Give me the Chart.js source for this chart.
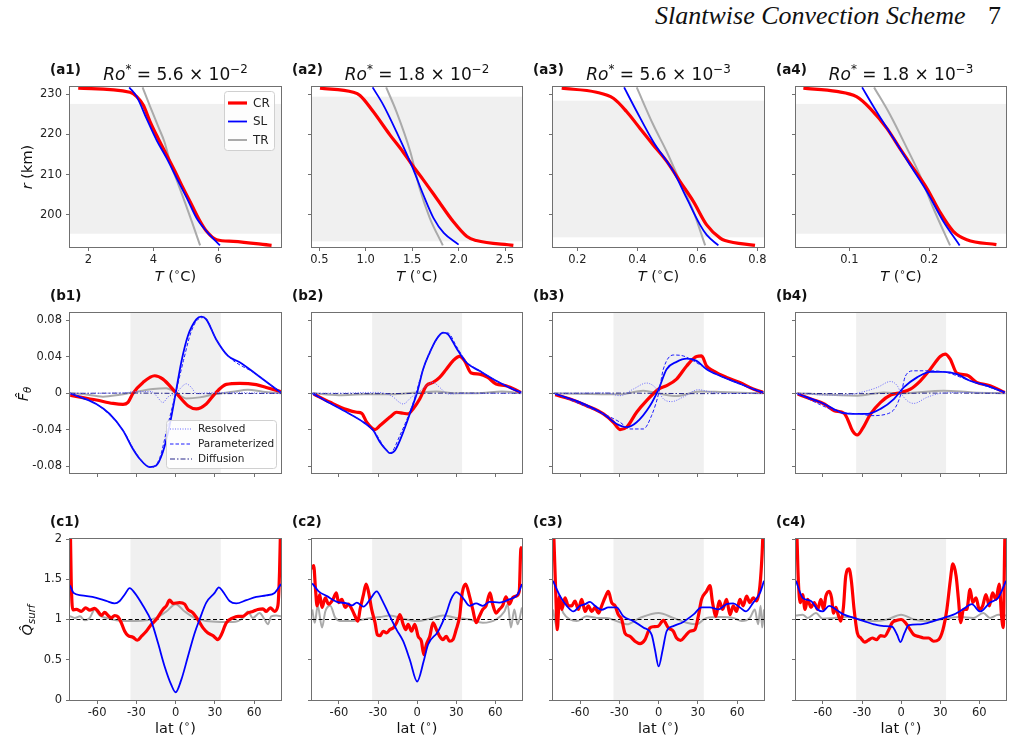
<!DOCTYPE html>
<html><head><meta charset="utf-8">
<script src="https://cdn.jsdelivr.net/npm/chart.js@4.4.0/dist/chart.umd.min.js"></script>
<style>
html,body{margin:0;padding:0;background:#fff;}
body{width:1019px;height:742px;position:relative;overflow:hidden;font-family:"DejaVu Sans",sans-serif;}
canvas{position:absolute;}
.t{position:absolute;white-space:nowrap;color:#111;transform:translate(-50%,-50%);line-height:1;}
.rot{transform:translate(-50%,-50%) rotate(-90deg);}
.lab{font-weight:bold;font-size:13.5px;transform:translate(0,-50%);}
.ttl{font-size:17px;}
.ax{font-size:14.5px;}
sup{font-size:70%;vertical-align:0.55em;line-height:0;}
sub{font-size:70%;vertical-align:-0.3em;line-height:0;}
.hdr{position:absolute;font-family:"Liberation Serif",serif;font-style:italic;font-size:26px;line-height:1;color:#111;white-space:nowrap;}
</style></head><body>
<script>
// ---------------- DATA ----------------
const rowA_rLim = [192.0, 231.8];
const rowA_rTicks = [200, 210, 220, 230];
const rowA_rTickLabels = ['200', '210', '220', '230'];
const latLim = [-80.7, 80.5];
const latTicks = [-60, -30, 0, 30, 60];
const latTickLabels = ['-60', '-30', '0', '30', '60'];
const fTicks = [-0.08, -0.04, 0, 0.04, 0.08];
const fTickLabels = ['-0.08', '-0.04', '0', '0.04', '0.08'];
const fLim = [-0.0872, 0.088];
const qTicks = [0, 0.5, 1, 1.5, 2];
const qTickLabels = ['0', '0.5', '1', '1.5', '2'];
const qLim = [0, 2];
const qRef = 1;
const fRef = 0;
const latBand = [-34.5, 34.5];

const roMant = ['5.6', '1.8', '5.6', '1.8'];
const roExp = ['−2', '−2', '−3', '−3'];

const a1_xLim = [1.437, 7.93], a2_xLim = [0.421, 2.683], a3_xLim = [0.119, 0.822], a4_xLim = [0.0333, 0.296];
const a1_xTicks = [2, 4, 6], a1_xLabels = ['2', '4', '6'];
const a2_xTicks = [0.5, 1, 1.5, 2, 2.5], a2_xLabels = ['0.5', '1.0', '1.5', '2.0', '2.5'];
const a3_xTicks = [0.2, 0.4, 0.6, 0.8], a3_xLabels = ['0.2', '0.4', '0.6', '0.8'];
const a4_xTicks = [0.1, 0.2], a4_xLabels = ['0.1', '0.2'];
const a1_band = [195.3, 227.6], a2_band = [193.4, 229.4], a3_band = [194.4, 228.4], a4_band = [195.3, 227.6];

// row a: [T, r]
const a1_CR = [[1.69,231.5],[3.28,230.5],[3.49,229.4],[3.69,227.3],[3.9,223.2],[4.15,219],[4.41,214.9],[4.67,210.8],[4.92,206.6],[5.18,202.5],[5.44,198.4],[5.64,195.9],[5.95,193.8],[6.46,193.4],[7.64,192.4]];
const a1_SL = [[3.26,231.7],[3.49,229.4],[3.79,224],[4.1,218.6],[4.41,214.1],[4.72,209.1],[5.03,204.2],[5.33,199.2],[5.64,195.9],[6.05,192.4]];
const a1_TR = [[3.67,231.7],[3.9,227],[4.15,222],[4.35,218],[4.52,213],[4.75,208],[4.98,203],[5.2,198],[5.44,192.4]];
const a2_CR = [[0.507,231.5],[0.866,230.5],[0.938,229.7],[1.08,225.7],[1.26,219.9],[1.40,215.7],[1.50,212.4],[1.62,208.7],[1.76,204.2],[1.94,198.4],[2.09,194.6],[2.19,193.6],[2.59,192.4]];
const a2_SL = [[1.074,231.7],[1.19,227.3],[1.33,220.7],[1.50,212],[1.62,205],[1.73,199.2],[1.84,195.5],[2.0,192.6]];
const a2_TR = [[1.22,231.7],[1.33,225.7],[1.48,215.7],[1.58,206.6],[1.69,199.2],[1.83,192.4]];
const a3_CR = [[0.148,231.5],[0.264,230.5],[0.32,229],[0.364,225.7],[0.409,221.5],[0.453,217.4],[0.498,213.3],[0.542,208.3],[0.587,203.3],[0.631,197.5],[0.676,194.2],[0.692,193.6],[0.792,192.4]];
const a3_SL = [[0.356,231.7],[0.398,225.7],[0.453,218.2],[0.52,210.8],[0.564,204.2],[0.609,197.5],[0.631,195],[0.67,192.4]];
const a3_TR = [[0.398,231.7],[0.453,222.4],[0.498,215.7],[0.542,208.3],[0.587,200.8],[0.626,192.4]];
const a4_CR = [[0.0425,231.5],[0.084,230.7],[0.109,229.4],[0.126,226.5],[0.147,221.5],[0.163,216.6],[0.18,211.6],[0.197,206.6],[0.213,200.8],[0.23,195.9],[0.247,193.8],[0.284,192.6]];
const a4_SL = [[0.116,231.7],[0.134,225.7],[0.155,219.1],[0.176,212.4],[0.197,205.8],[0.2175,198.4],[0.238,192.4]];
const a4_TR = [[0.131,231.7],[0.151,224.9],[0.172,216.6],[0.188,210],[0.205,201.7],[0.226,192.4]];

// row b: [lat, F]
const b1_CR = [[-80.5,-0.002],[-70,-0.005],[-60.6,-0.0073],[-47.8,-0.011],[-40.2,-0.012],[-36.4,-0.0098],[-32.6,0],[-24.9,0.012],[-16,0.0193],[-9.7,0.0156],[0,0.001],[9.4,-0.0135],[15.8,-0.017],[23.4,-0.0116],[29.8,-0.0007],[38.7,0.0098],[48.9,0.011],[61.6,0.0095],[69.2,0.0065],[80.3,0.002]];
const b1_SL = [[-80.7,0],[-60.6,-0.0116],[-50.4,-0.0225],[-40.2,-0.0407],[-32.6,-0.061],[-27.5,-0.0716],[-19.8,-0.0807],[-14.8,-0.079],[-9.7,-0.064],[-4.6,-0.035],[0,0],[4.3,0.034],[9.4,0.063],[15.8,0.081],[19.6,0.084],[23.4,0.081],[31,0.059],[40,0.041],[48.9,0.034],[61.6,0.021],[71.8,0.010],[80.3,0.001]];
const b1_TR = [[-80.7,0],[-70.7,-0.0007],[-55.5,-0.0036],[-42.7,-0.0015],[-32.6,0.001],[-17.3,0.0047],[-7.1,0.0055],[0,0.001],[8,-0.0055],[18.3,-0.0044],[31,-0.0007],[43.8,0.0018],[55.2,0.004],[66.7,0.0018],[80.5,0]];
const b1_Res = [[-80.7,0],[-40,0.0005],[-30,0.002],[-18.6,0.002],[-14.8,-0.0025],[-9.7,-0.01],[-5.9,-0.004],[0,0],[5.6,0.0084],[8.1,0.0105],[12,0.0065],[15.8,0],[30,0.001],[80.5,0]];
const b1_Par = [[-80.7,0],[-60.6,-0.0116],[-40.2,-0.0405],[-30,-0.066],[-22,-0.079],[-18,-0.081],[-12,-0.07],[-6,-0.035],[0,0],[6,0.036],[12,0.068],[18,0.082],[22,0.083],[31,0.059],[40,0.041],[61.6,0.021],[80.3,0.001]];
const b1_Dif = [[-80.7,0],[-30,0.0003],[0,0],[30,-0.0003],[80.5,0]];

const b2_CR = [[-79.4,-0.0007],[-66.7,-0.0098],[-54,-0.0178],[-46.3,-0.0207],[-42.5,-0.0218],[-38.7,-0.0316],[-32.3,-0.0396],[-28.5,-0.0353],[-20.9,-0.026],[-15.8,-0.0207],[-10.7,-0.0218],[-6.9,-0.0225],[-3.1,-0.017],[2,-0.0062],[7.1,0.0084],[12.2,0.012],[17.3,0.0175],[22.4,0.0265],[27.5,0.0356],[32.6,0.0404],[36.4,0.0356],[41.5,0.0222],[47.8,0.0211],[54.2,0.0175],[60.6,0.0102],[68.2,0.0084],[79.6,0.001]];
const b2_SL = [[-80.2,0],[-66.7,-0.0109],[-54,-0.0207],[-41.2,-0.0316],[-33.6,-0.0407],[-28.5,-0.0535],[-23.4,-0.0625],[-20.9,-0.0655],[-17,-0.0625],[-10.7,-0.0425],[-4.3,-0.017],[0,0.001],[4.6,0.0265],[9.7,0.0447],[14.8,0.0593],[19.8,0.0665],[23.7,0.0647],[30,0.05],[37.7,0.0338],[47.8,0.0247],[60.6,0.0138],[73.3,0.0047],[80,0.001]];
const b2_TR = [[-80.2,0],[-60,-0.002],[-40,-0.001],[-20,-0.001],[0,0.001],[15,0.002],[30,0],[50,0.0005],[65,0.002],[80,0]];
const b2_Res = [[-80.2,0],[-50,0.0005],[-40,0.001],[-30,0.001],[-20,-0.0025],[-10.7,-0.0116],[-4.3,-0.004],[0,0],[7.1,0.0084],[12.2,0.012],[17.3,0.0065],[23.7,-0.0007],[35,0],[80,0]];
const b2_Par = [[-80.2,0],[-54,-0.0207],[-33.6,-0.0407],[-23.4,-0.0625],[-20.9,-0.0655],[-13.2,-0.046],[-3,-0.01],[4.6,0.0265],[12.2,0.052],[21,0.0665],[24,0.066],[30,0.052],[37.7,0.035],[47.8,0.025],[60.6,0.014],[80,0.001]];
const b2_Dif = [[-80.7,0],[-30,-0.0003],[0,0],[30,0.0003],[80.5,0]];

const b3_CR = [[-79,-0.0015],[-67.7,-0.0062],[-55,-0.0135],[-42.2,-0.0225],[-34.6,-0.0316],[-29.5,-0.0396],[-24.4,-0.037],[-16.8,-0.0207],[-9.2,-0.008],[0,0.0047],[6.1,0.0084],[13.7,0.0156],[21.4,0.03],[29,0.0404],[32.8,0.041],[36.6,0.03],[41.7,0.0247],[51.9,0.0175],[62,0.012],[72.3,0.0047],[79.9,0.001]];
const b3_SL = [[-79,-0.0007],[-60,-0.0098],[-42.2,-0.0225],[-32,-0.0335],[-24.4,-0.037],[-16.8,-0.0316],[-6.6,-0.0135],[0,0.0047],[6.1,0.0265],[13.7,0.0345],[21.4,0.038],[29,0.0356],[36.6,0.0265],[46.8,0.0193],[59.5,0.012],[72.3,0.0047],[79.9,0.001]];
const b3_TR = [[-80,0],[-29.5,-0.001],[-11.7,0.003],[0,0],[13.7,-0.003],[31.5,0.002],[47,0.0015],[80,0]];
const b3_Res = [[-79,0],[-40,0.0005],[-29.5,-0.0025],[-19.3,0.0047],[-9.2,0.0113],[-4.1,0.0084],[0,0.002],[3.6,-0.006],[9.9,-0.009],[18.8,-0.004],[30.3,0.004],[39,0.0018],[50,0],[80,0]];
const b3_Par = [[-79,-0.0007],[-42.2,-0.0225],[-29.5,-0.0316],[-21.9,-0.039],[-11.7,-0.039],[-5.3,-0.024],[0,0],[3.6,0.0265],[11.2,0.042],[18.8,0.041],[26.5,0.0356],[36.6,0.027],[46.8,0.0193],[79.9,0.001]];
const b3_Dif = [[-80.7,0],[-30,0.0003],[0,0],[30,-0.0003],[80.5,0]];

const b4_CR = [[-79.4,-0.0007],[-69.2,-0.0062],[-59,-0.0116],[-51.4,-0.0189],[-43.8,-0.0218],[-41.2,-0.028],[-37.4,-0.0407],[-33.6,-0.0455],[-29.8,-0.039],[-23.4,-0.0225],[-15.8,-0.0098],[-8.1,-0.0018],[0,0.001],[7.1,0.0047],[14.8,0.0138],[22.4,0.0265],[30,0.0404],[33.8,0.043],[37.7,0.0375],[42.7,0.0222],[50.4,0.02],[58,0.012],[68.2,0.0084],[79.6,0.001]];
const b4_SL = [[-79.4,-0.0007],[-59,-0.0116],[-46.3,-0.0207],[-33.6,-0.0225],[-26,-0.0225],[-15.8,-0.017],[-5.6,-0.0062],[2,0.0065],[12.2,0.0175],[22.4,0.0236],[32.6,0.0236],[42.7,0.0211],[52.9,0.0138],[65.6,0.0084],[79.6,0.001]];
const b4_TR = [[-80,0],[-33.6,-0.0025],[-13.2,0.001],[0,0],[32.6,0.003],[55,0.001],[80,0]];
const b4_Res = [[-80,0],[-55,-0.0018],[-40,-0.0015],[-31,0.001],[-18.3,0.0065],[-8.1,0.013],[-3,0.0084],[0,0],[4.6,-0.008],[9.7,-0.011],[19.8,-0.0044],[30,0],[45,0.001],[80,0]];
const b4_Par = [[-79.4,-0.0007],[-46.3,-0.0207],[-31,-0.0225],[-23.4,-0.0244],[-10.7,-0.0225],[-4.3,-0.0153],[0,0],[3.3,0.019],[9.7,0.0247],[19.8,0.0247],[32.6,0.0236],[52.9,0.0138],[79.6,0.001]];
const b4_Dif = [[-80.7,0],[-30,-0.0003],[0,0],[30,0.0003],[80.5,0]];

// row c: [lat, Q]
const c1_CR = [[-80.7,2.4],[-79.8,1.5],[-78.6,1.12],[-75.8,1.125],[-72,1.1],[-68.7,1.146],[-65.6,1.117],[-61.8,1.138],[-59.3,1.1],[-56.7,1.05],[-54.2,1.09],[-51.7,1.05],[-49.1,1.02],[-46.6,1.05],[-44,1.033],[-41.5,0.958],[-38.9,0.854],[-36.4,0.8],[-32.6,0.78],[-29.3,0.742],[-26.2,0.79],[-22.4,0.854],[-18.6,0.9375],[-14.8,1.0],[-9.7,1.125],[-7.1,1.17],[-4.6,1.24],[-2,1.2],[3,1.21],[6.9,1.19],[9.4,1.125],[13.2,1.083],[17,1.0],[20.9,0.896],[24.7,0.833],[28.5,0.8],[32.3,0.75],[34.9,0.81],[38.7,0.958],[43.8,1.02],[47.6,1.04],[51.4,1.04],[55.2,1.083],[59,1.1],[62.8,1.125],[66.7,1.133],[69.2,1.1],[72.3,1.146],[75.6,1.1],[78.1,1.17],[79.4,1.6],[80.5,2.4]];
const c1_SL = [[-80.7,1.425],[-78,1.33],[-72,1.3],[-60.6,1.27],[-53,1.23],[-46.6,1.2],[-42.7,1.23],[-38.9,1.31],[-35.1,1.39],[-31.3,1.33],[-24.9,1.17],[-18.6,0.98],[-13.5,0.71],[-8.4,0.417],[-3.3,0.1875],[0,0.096],[4.3,0.25],[9.4,0.54],[14.5,0.83],[18.3,1.0],[23.4,1.21],[29.8,1.33],[33,1.4],[36,1.35],[41.2,1.23],[46.3,1.2],[54,1.24],[61.6,1.28],[69.2,1.3],[75.6,1.33],[80.5,1.44]];
const c1_TR = [[-80.7,1.04],[-77,1.02],[-73,1.04],[-69.5,0.99],[-65.6,1.02],[-61.8,1.125],[-58,1.05],[-53,1.02],[-45.3,0.99],[-37.7,0.98],[-30,0.98],[-22.4,0.99],[-14.8,1.02],[-7.1,1.1],[0,1.19],[6.9,1.1],[14.5,1.02],[23.4,0.98],[33.6,0.97],[43.8,0.97],[51.4,1.02],[55.2,1.1],[59,1.02],[64.1,1.08],[68,1.0],[70.5,0.94],[73,1.04],[76.8,1.05],[80.5,1.04]];

const c2_CR = [[-80.5,1.62],[-79.4,1.67],[-78,1.375],[-76.8,1.17],[-74.8,1.31],[-73,1.15],[-70.5,1.27],[-68,1.19],[-64.6,1.25],[-62,1.33],[-60.3,1.21],[-57.8,1.25],[-55.2,1.15],[-52.7,1.19],[-50,1.125],[-47.6,1.04],[-45.5,0.98],[-43.8,1.125],[-41.2,1.31],[-39.2,1.44],[-37.4,1.35],[-34.9,1.125],[-32.3,0.96],[-30.5,0.81],[-28.5,0.8],[-26,0.854],[-23.4,0.833],[-20.9,0.875],[-18.3,0.896],[-15.8,0.958],[-13.2,1.06],[-10.7,0.94],[-8.7,0.875],[-6.9,0.94],[-4.3,0.854],[-1.8,0.94],[0.8,0.79],[3.3,0.73],[5.1,0.5625],[7.1,0.69],[9.7,0.79],[12.2,0.958],[14.8,0.875],[17.3,0.79],[19.8,0.75],[22.4,0.79],[24.9,0.73],[27.5,0.75],[30,0.875],[32.6,1.04],[34.6,1.33],[37.2,1.44],[40.2,1.29],[42.7,1.125],[45.3,0.96],[47.8,1.04],[50.4,1.125],[52.9,1.17],[56,1.33],[58,1.19],[60.6,1.08],[63.1,1.125],[65.6,1.17],[68.2,1.28],[70.7,1.19],[73.3,1.27],[75.8,1.29],[78.4,1.35],[79.6,1.875],[80.5,1.9]];
const c2_SL = [[-80.5,1.45],[-75.6,1.35],[-69.2,1.29],[-61.6,1.22],[-54,1.2],[-50,1.175],[-46.3,1.21],[-41.2,1.16],[-36.1,1.25],[-31,1.35],[-27.2,1.25],[-22.1,1.08],[-15.8,0.875],[-10.7,0.73],[-5.6,0.5],[0,0.23],[5,0.48],[8.4,0.69],[16,0.85],[22.4,1.08],[26,1.25],[30,1.34],[35.1,1.27],[40.2,1.17],[45.3,1.2],[50.4,1.17],[55.5,1.22],[63.1,1.21],[70.7,1.25],[77.1,1.31],[80.5,1.44]];
const c2_TR = [[-80.5,1.125],[-78.6,0.96],[-76.3,1.17],[-73,0.9],[-70.5,1.1],[-66.7,1.17],[-62.8,1.02],[-57.8,0.98],[-48.9,0.98],[-38.7,1.01],[-28.5,1.03],[-20.9,1.05],[-10.7,1.01],[0,0.98],[9.7,1.01],[19.8,1.05],[30,1.02],[40.2,1.0],[50.4,0.96],[60.6,1.0],[67,1.1],[69.5,1.19],[72,0.9],[74.6,1.125],[77.1,0.94],[80.5,1.15]];

const c3_CR = [[-80.7,2.4],[-80,2.0],[-78.6,1.33],[-77.4,0.875],[-75.8,1.29],[-74,1.125],[-71.5,1.27],[-69,1.17],[-66.4,1.17],[-63.9,1.23],[-61.3,1.125],[-58.8,1.25],[-56.2,1.1],[-53.7,1.17],[-51.1,1.1],[-48.6,1.15],[-46,1.08],[-43.5,1.17],[-41,1.27],[-38.4,1.35],[-35.9,1.21],[-33.3,1.17],[-30.8,1.06],[-28.2,1.0],[-25.7,0.83],[-21.9,0.79],[-18.1,0.73],[-14.2,0.7],[-10.4,0.75],[-6.6,0.896],[-4.1,0.91],[-0.3,0.917],[3.6,0.99],[7.4,0.896],[11.2,0.854],[13.7,0.77],[16.8,0.74],[20.1,0.79],[23.9,0.854],[27.7,0.875],[30.3,1.04],[32.8,1.25],[36.6,1.35],[39.2,1.42],[41.2,1.21],[43.8,1.04],[46.3,1.23],[48.9,1.125],[51.9,1.25],[54.5,1.06],[57,1.17],[59.5,1.1],[62.1,1.25],[64.6,1.17],[67.2,1.29],[69.7,1.21],[72.3,1.27],[74.8,1.23],[77.4,1.42],[79.1,1.83],[80.5,2.4]];
const c3_SL = [[-80.7,1.48],[-75.3,1.29],[-70.2,1.17],[-65.1,1.1],[-60,1.17],[-56.2,1.19],[-52.4,1.22],[-48.6,1.17],[-43.5,1.12],[-38.4,1.15],[-32.1,1.15],[-27,1.04],[-19.3,0.98],[-11.7,0.9],[-5.3,0.81],[-2.8,0.625],[0,0.417],[3.1,0.625],[6.1,0.854],[11.2,0.917],[18.8,0.97],[26.5,1.06],[32.8,1.15],[39.2,1.15],[45.5,1.125],[51.9,1.19],[57,1.2],[62.1,1.15],[66.7,1.1],[72.3,1.21],[77.4,1.33],[80.5,1.48]];
const c3_TR = [[-80.7,1.125],[-78,0.917],[-75.8,1.21],[-72.8,1.08],[-67.7,1.0],[-62.6,0.98],[-55,1.04],[-47.3,1.02],[-39.7,1.02],[-32,0.98],[-24.4,0.94],[-14.2,1.02],[0,1.08],[11.2,1.02],[21.4,0.96],[29,0.94],[36.6,1.02],[46.8,1.03],[57,1.02],[63.4,0.98],[69.7,1.02],[73.5,1.125],[76,0.94],[77.9,1.17],[79.1,0.9],[80.5,1.125]];

const c4_CR = [[-80.7,2.4],[-79.9,2.0],[-78.9,1.48],[-77.4,1.21],[-75.6,1.31],[-73.8,1.125],[-71.8,1.25],[-69.2,1.15],[-66.7,1.21],[-64.1,1.125],[-61.6,1.25],[-59.5,1.125],[-57.8,1.29],[-55.2,1.35],[-53.4,1.27],[-51.9,1.08],[-50.1,1.15],[-48.3,1.06],[-46.3,0.98],[-44.3,1.15],[-42.5,1.54],[-40,1.63],[-38.2,1.48],[-36.1,1.125],[-33.6,0.83],[-31,0.77],[-28,0.72],[-25.4,0.74],[-22.1,0.77],[-18.8,0.75],[-15.8,0.8],[-12.7,0.79],[-9.4,0.875],[-6.9,0.96],[-3.1,0.99],[0,1.0],[3.3,0.96],[5.9,0.9],[9.7,0.81],[13.5,0.79],[17.3,0.77],[21.1,0.77],[24.9,0.73],[28.8,0.75],[32.1,0.875],[35.1,1.125],[37.7,1.48],[39.7,1.69],[42.2,1.54],[44,1.25],[45.8,0.96],[47.8,1.125],[50.4,1.125],[52.9,1.375],[55,1.21],[57.5,1.27],[60,1.125],[62.6,1.17],[65.1,1.31],[67.7,1.17],[70.2,1.33],[72.8,1.25],[75.3,1.44],[77.1,1.04],[78.4,0.9],[79.6,2.0],[80.5,2.4]];
const c4_SL = [[-80.7,1.48],[-75.6,1.27],[-69.2,1.23],[-64.1,1.125],[-60.3,1.1],[-55.2,1.17],[-50.1,1.125],[-43.8,1.06],[-36.1,1.02],[-28.5,0.98],[-20.9,0.94],[-13.2,0.917],[-6.9,0.91],[-3.1,0.81],[-0.5,0.72],[2.5,0.83],[5.9,0.93],[14.8,0.94],[24.9,0.98],[32.6,1.02],[40.2,1.06],[47.8,1.13],[54.2,1.19],[60.6,1.1],[68.2,1.21],[74.6,1.27],[80.5,1.48]];
const c4_TR = [[-80.7,1.05],[-75.6,1.06],[-71.8,1.02],[-65.4,1.08],[-60.3,1.01],[-51.4,1.02],[-41.2,1.03],[-31,1.0],[-20.9,0.98],[-10.7,1.0],[0,1.06],[9.7,1.0],[19.8,0.98],[30,1.0],[45.3,1.03],[55.5,1.02],[63.1,1.08],[68.2,1.02],[74.6,1.06],[80.5,1.05]];

// ---------------- STYLE / LAYOUT ----------------
const SPINE = '#707070';
const TICKC = '#222';
const BAND = '#f0f0f0';
const ST = {
  CR: {c:'#ff0000', w:3.2, d:[]},
  SL: {c:'#0000ff', w:1.8, d:[]},
  TR: {c:'#aaaaaa', w:2, d:[]},
  Res:{c:'#6a6aff', w:1, d:[1,1.5]},
  Par:{c:'#1a1aff', w:1, d:[3.5,2]},
  Dif:{c:'#26268a', w:1, d:[5,2,1.5,2]},
  Ref:{c:'#000000', w:1, d:[4,2.5]}
};
const colL = [70, 312, 553, 796];
const colW = [211, 210, 211, 210];
const rowT = [87, 313, 539];
const rowH = [160, 160, 161];

const bandPlugin = {
  id: 'band',
  beforeDatasetsDraw(chart, args, o) {
    if (!o || !o.axis) return;
    const {ctx, chartArea: a, scales} = chart;
    ctx.save(); ctx.fillStyle = BAND;
    if (o.axis === 'x') {
      const x0 = scales.x.getPixelForValue(o.from), x1 = scales.x.getPixelForValue(o.to);
      ctx.fillRect(x0, a.top, x1 - x0, a.bottom - a.top);
    } else {
      const y0 = scales.y.getPixelForValue(o.to), y1 = scales.y.getPixelForValue(o.from);
      ctx.fillRect(a.left, y0, a.right - a.left, y1 - y0);
    }
    ctx.restore();
  }
};
const framePlugin = {
  id: 'frame',
  afterDatasetsDraw(chart) {
    const {ctx, chartArea: a} = chart;
    ctx.save(); ctx.strokeStyle = SPINE; ctx.lineWidth = 1;
    ctx.strokeRect(a.left - 0.5, a.top - 0.5, a.right - a.left + 1, a.bottom - a.top + 1);
    ctx.restore();
  }
};
const legendPlugin = {
  id: 'boxLegend',
  afterDraw(chart, args, o) {
    if (!o || !o.items) return;
    const {ctx, chartArea: a} = chart;
    const x = a.right - o.mr - o.w;
    const y = o.anchor === 'top' ? a.top + o.mt : a.bottom - o.mb - o.h;
    ctx.save();
    ctx.fillStyle = 'rgba(255,255,255,0.85)';
    ctx.strokeStyle = '#d0d0d0'; ctx.lineWidth = 1;
    ctx.beginPath();
    if (ctx.roundRect) ctx.roundRect(x + 0.5, y + 0.5, o.w, o.h, 3); else ctx.rect(x + 0.5, y + 0.5, o.w, o.h);
    ctx.fill(); ctx.stroke();
    ctx.font = o.font + 'px "DejaVu Sans"';
    ctx.textBaseline = 'middle';
    o.items.forEach((it, i) => {
      const cy = y + o.first + i * o.row;
      ctx.strokeStyle = it.c; ctx.lineWidth = it.w; ctx.setLineDash(it.d);
      ctx.beginPath(); ctx.moveTo(x + 4, cy); ctx.lineTo(x + 4 + o.len, cy); ctx.stroke();
      ctx.setLineDash([]);
      ctx.fillStyle = '#222';
      ctx.fillText(it.label, x + 4 + o.len + 6, cy + 0.5);
    });
    ctx.restore();
  }
};

function axis(lim, ticks, labels, isX, size) {
  return {
    type: 'linear', min: lim[0], max: lim[1],
    grid: {display: true, drawOnChartArea: false, drawTicks: true, tickLength: 4, color: SPINE, lineWidth: 1},
    border: {display: false},
    ticks: {autoSkip: false, maxRotation: 0, minRotation: 0, padding: isX ? 2 : 4, color: TICKC,
            font: {family: '"DejaVu Sans"', size: 11.5},
            callback: (v, i) => labels ? labels[i] : ''},
    afterBuildTicks: s => { s.ticks = ticks.map(v => ({value: v})); },
    afterFit: s => {
      if (isX) { s.height = size; s.paddingLeft = 0; s.paddingRight = 0; }
      else { s.width = size; s.paddingTop = 0; s.paddingBottom = 0; }
    }
  };
}
function ds(label, pts, st, order) {
  return {label, data: pts.map(p => ({x: p[0], y: p[1]})), showLine: true, borderColor: st.c,
          backgroundColor: st.c, borderWidth: st.w, borderDash: st.d, pointRadius: 0, pointHoverRadius: 0,
          fill: false, cubicInterpolationMode: 'monotone', order, clip: 0};
}
function panel(col, row, cfg) {
  const ML = 62, MT = 10, MR = 12, MB = 26;
  const pl = colL[col], pt = rowT[row], pw = colW[col], ph = rowH[row];
  const c = document.createElement('canvas');
  c.width = pw + ML + MR; c.height = ph + MT + MB;
  c.style.left = (pl - ML) + 'px'; c.style.top = (pt - MT) + 'px';
  c.style.width = c.width + 'px'; c.style.height = c.height + 'px';
  document.body.appendChild(c);
  new Chart(c, {
    type: 'scatter',
    data: {datasets: cfg.datasets},
    options: {
      responsive: false, animation: false, devicePixelRatio: 1,
      layout: {padding: {left: 0, top: MT, right: MR, bottom: 0}},
      events: [],
      plugins: {legend: {display: false}, tooltip: {enabled: false}, band: cfg.band, boxLegend: cfg.legend || {}},
      scales: {
        x: axis(cfg.xlim, cfg.xticks, cfg.xlabels, true, MB),
        y: axis(cfg.ylim, cfg.yticks, cfg.ylabels, false, ML)
      }
    },
    plugins: [bandPlugin, framePlugin, legendPlugin]
  });
}
function text(html, x, y, cls, style) {
  const d = document.createElement('div');
  d.className = 't ' + (cls || ''); d.innerHTML = html;
  d.style.left = x + 'px'; d.style.top = y + 'px';
  if (style) d.style.cssText += style;
  document.body.appendChild(d);
}

// ---------------- BUILD ----------------
const rowA = [
  [a1_CR, a1_SL, a1_TR, a1_xLim, a1_xTicks, a1_xLabels, a1_band],
  [a2_CR, a2_SL, a2_TR, a2_xLim, a2_xTicks, a2_xLabels, a2_band],
  [a3_CR, a3_SL, a3_TR, a3_xLim, a3_xTicks, a3_xLabels, a3_band],
  [a4_CR, a4_SL, a4_TR, a4_xLim, a4_xTicks, a4_xLabels, a4_band]
];
rowA.forEach((p, i) => {
  panel(i, 0, {
    datasets: [ds('SL', p[1], ST.SL, 1), ds('CR', p[0], ST.CR, 2), ds('TR', p[2], ST.TR, 3)],
    xlim: p[3], xticks: p[4], xlabels: p[5],
    ylim: rowA_rLim, yticks: rowA_rTicks, ylabels: i === 0 ? rowA_rTickLabels : null,
    band: {axis: 'y', from: p[6][0], to: p[6][1]},
    legend: i === 0 ? {anchor: 'top', mr: 7, mt: 4, w: 50, h: 59, first: 12, row: 18.5, len: 19, font: 12,
      items: [{label: 'CR', ...ST.CR}, {label: 'SL', ...ST.SL}, {label: 'TR', ...ST.TR}]} : null
  });
});
const rowB = [
  [b1_CR, b1_SL, b1_TR, b1_Res, b1_Par, b1_Dif],
  [b2_CR, b2_SL, b2_TR, b2_Res, b2_Par, b2_Dif],
  [b3_CR, b3_SL, b3_TR, b3_Res, b3_Par, b3_Dif],
  [b4_CR, b4_SL, b4_TR, b4_Res, b4_Par, b4_Dif]
];
rowB.forEach((p, i) => {
  panel(i, 1, {
    datasets: [ds('Resolved', p[3], ST.Res, 1), ds('Parameterized', p[4], ST.Par, 1), ds('Diffusion', p[5], ST.Dif, 1),
               ds('SL', p[1], ST.SL, 2), ds('CR', p[0], ST.CR, 3), ds('TR', p[2], ST.TR, 4)],
    xlim: latLim, xticks: latTicks, xlabels: null,
    ylim: fLim, yticks: fTicks, ylabels: i === 0 ? fTickLabels : null,
    band: {axis: 'x', from: latBand[0], to: latBand[1]},
    legend: i === 0 ? {anchor: 'bottom', mr: 5, mb: 5, w: 110, h: 48, first: 9, row: 15, len: 22, font: 10.5,
      items: [{label: 'Resolved', ...ST.Res}, {label: 'Parameterized', ...ST.Par}, {label: 'Diffusion', ...ST.Dif}]} : null
  });
});
const rowC = [[c1_CR, c1_SL, c1_TR], [c2_CR, c2_SL, c2_TR], [c3_CR, c3_SL, c3_TR], [c4_CR, c4_SL, c4_TR]];
rowC.forEach((p, i) => {
  panel(i, 2, {
    datasets: [ds('SL', p[1], ST.SL, 1), ds('CR', p[0], ST.CR, 2), ds('ref', [[latLim[0], qRef], [latLim[1], qRef]], ST.Ref, 3), ds('TR', p[2], ST.TR, 4)],
    xlim: latLim, xticks: latTicks, xlabels: latTickLabels,
    ylim: qLim, yticks: qTicks, ylabels: i === 0 ? qTickLabels : null,
    band: {axis: 'x', from: latBand[0], to: latBand[1]}
  });
});

// ---------------- TEXT ----------------
const labY = [70, 296, 522];
['a', 'b', 'c'].forEach((r, ri) => {
  for (let i = 0; i < 4; i++) text('(' + r + (i + 1) + ')', colL[i] - 20, labY[ri], 'lab');
});
for (let i = 0; i < 4; i++) {
  const cx = colL[i] + colW[i] / 2;
  text('<i>Ro</i><sup>*</sup> = ' + roMant[i] + ' × 10<sup>' + roExp[i] + '</sup>', cx, 74, 'ttl');
  text('<i>T</i> (<sup>∘</sup>C)', cx, 276, 'ax');
  text('lat (<sup>∘</sup>)', cx, 728, 'ax');
}
text('<i>r</i> (km)', 27, 167, 'ax rot');
text('<i>F&#770;</i><sub><i>θ</i></sub>', 23, 394, 'ax rot');
text('<i>Q&#770;</i><sub><i>surf</i></sub>', 27, 620, 'ax rot');

const h1 = document.createElement('div'); h1.className = 'hdr'; h1.textContent = 'Slantwise Convection Scheme';
h1.style.left = '655px'; h1.style.top = '3px'; document.body.appendChild(h1);
const h2 = document.createElement('div'); h2.className = 'hdr'; h2.textContent = '7';
h2.style.left = '988px'; h2.style.top = '3px'; h2.style.fontStyle = 'normal'; document.body.appendChild(h2);
</script>
</body></html>
